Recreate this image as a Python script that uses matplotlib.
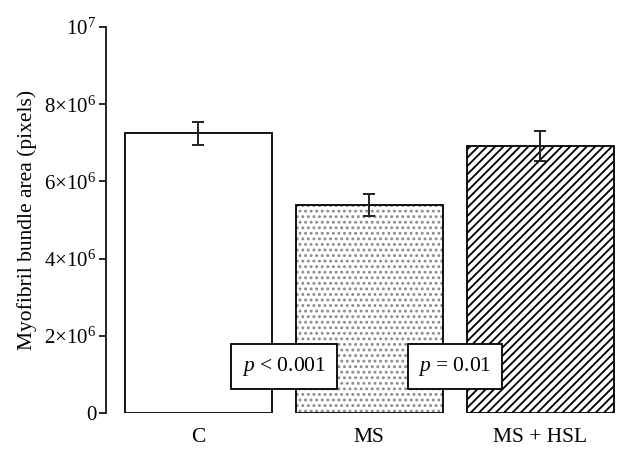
import matplotlib
matplotlib.use("Agg")
import matplotlib.pyplot as plt

plt.rcParams['font.family'] = ['Liberation Serif', 'DejaVu Serif']
plt.rcParams['mathtext.fontset'] = 'custom'
plt.rcParams['mathtext.rm'] = 'Liberation Serif'
plt.rcParams['mathtext.it'] = 'Liberation Serif:italic'
plt.rcParams['hatch.linewidth'] = 1.3

categories = ["C", "MS", "MS + HSL"]
means = [7.25e6, 5.39e6, 6.92e6]
errors = [0.30e6, 0.28e6, 0.38e6]
hatches = ["", "...", "////"]
hatch_colors = ["black", "#8a8a8a", "black"]
yticks = [0, 2e6, 4e6, 6e6, 8e6, 1e7]
ytick_labels = ["0", r"$2{\times}10^{6}$", r"$4{\times}10^{6}$", r"$6{\times}10^{6}$",
                r"$8{\times}10^{6}$", r"$10^{7}$"]
pvals = [r"$\it{p}$ < 0.001", r"$\it{p}$ = 0.01"]
pval_x = [0.5, 1.5]
pval_y = 1.2e6

W, H = 629, 453
fig = plt.figure(figsize=(W / 100, H / 100), dpi=100)
left = 106 / W
bottom = 1 - 413 / H
top = 1 - 27 / H
unit = 171 / W
xmin, xmax = -0.54, 2.5
ax = fig.add_axes([left, bottom, (xmax - xmin) * unit, top - bottom])

x = list(range(len(categories)))
# hatch layer
hb = ax.bar(x, means, width=0.86, color="white", edgecolor=hatch_colors, linewidth=0)
for b, h in zip(hb, hatches):
    b.set_hatch(h)
# outline layer
ax.bar(x, means, width=0.86, fill=False, edgecolor="black", linewidth=1.3)
ax.errorbar(x, means, yerr=errors, fmt="none", ecolor="#222222", elinewidth=1.4,
            capsize=4, capthick=1.4)

for px, t in zip(pval_x, pvals):
    ax.text(px, pval_y, t, ha="center", va="center", fontsize=15.5, zorder=5,
            bbox=dict(boxstyle="square,pad=0.5", facecolor="white", edgecolor="black",
                      linewidth=1.3))

ax.set_xlim(xmin, xmax)
ax.set_ylim(0, 1e7)
ax.set_yticks(yticks)
ax.set_yticklabels(ytick_labels, fontsize=15)
ax.set_xticks(x)
ax.set_xticklabels(categories, fontsize=15.5)
ax.tick_params(axis="x", length=0, pad=11)
ax.tick_params(axis="y", length=5, width=1.2, pad=2, direction="out")
for s in ["top", "right", "bottom"]:
    ax.spines[s].set_visible(False)
ax.spines["left"].set_linewidth(1.2)
ax.set_ylabel("Myofibril bundle area (pixels)", fontsize=15.5, labelpad=5)

fig.savefig("out.png", dpi=100)
